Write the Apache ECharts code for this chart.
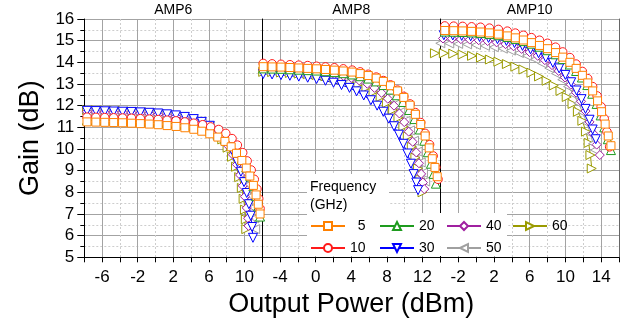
<!DOCTYPE html>
<html>
<head>
<meta charset="utf-8">
<script src="https://cdn.jsdelivr.net/npm/echarts@6/dist/echarts.min.js"></script>
<style>
  html, body { margin: 0; padding: 0; background: #fff; }
  #chart { width: 631px; height: 324px; }
</style>
</head>
<body>
<div id="chart"></div>
<script>
// Gain vs output power, three amplifiers, 7 frequencies each.
// Each series is a list of [Pout (dBm), Gain (dB)].

const panelNames = ["AMP6", "AMP8", "AMP10"];
const panelXMin = [-8, -6, -4];
const panelXMax = [12, 14, 16];
const freqNames = ["5", "10", "20", "30", "40", "50", "60"];
const gainMin = 5;
const gainMax = 16;

// AMP6
const amp6_5 = [[-7.7,11.25],[-6.7,11.24],[-5.7,11.23],[-4.7,11.22],[-3.7,11.21],[-2.7,11.19],[-1.7,11.17],[-0.7,11.15],[0.3,11.12],[1.3,11.08],[2.3,11.04],[3.3,10.98],[4.3,10.91],[5.2,10.82],[6.1,10.7],[7.0,10.55],[7.8,10.35],[8.5,10.1],[9.1,9.8],[9.7,9.47],[10.2,9.12],[10.6,8.75],[11.0,8.32],[11.3,7.88],[11.55,7.45],[11.75,7.0]];
const amp6_10 = [[-7.7,11.47],[-6.7,11.46],[-5.7,11.45],[-4.7,11.44],[-3.7,11.43],[-2.7,11.42],[-1.7,11.4],[-0.7,11.38],[0.3,11.36],[1.3,11.33],[2.3,11.3],[3.3,11.25],[4.3,11.19],[5.3,11.12],[6.2,11.02],[7.1,10.9],[7.9,10.72],[8.6,10.48],[9.2,10.18],[9.8,9.83],[10.3,9.45],[10.75,9.03],[11.1,8.6],[11.4,8.15],[11.6,7.7],[11.75,7.25]];
const amp6_20 = [[-7.7,11.33],[-6.7,11.32],[-5.7,11.32],[-4.7,11.31],[-3.7,11.3],[-2.7,11.29],[-1.7,11.27],[-0.7,11.25],[0.3,11.22],[1.3,11.19],[2.3,11.15],[3.3,11.1],[4.3,11.03],[5.2,10.94],[6.1,10.82],[7.0,10.65],[7.8,10.44],[8.5,10.18],[9.1,9.88],[9.7,9.53],[10.2,9.15],[10.65,8.73],[11.0,8.28],[11.3,7.82],[11.55,7.35],[11.75,6.88]];
const amp6_30 = [[-7.7,11.76],[-6.7,11.75],[-5.7,11.74],[-4.7,11.73],[-3.7,11.72],[-2.7,11.71],[-1.7,11.69],[-0.7,11.67],[0.3,11.64],[1.3,11.6],[2.3,11.55],[3.3,11.48],[4.3,11.38],[5.2,11.25],[6.1,11.07],[6.9,10.83],[7.6,10.55],[8.2,10.22],[8.75,9.83],[9.2,9.4],[9.6,8.95],[9.95,8.47],[10.25,7.97],[10.5,7.45],[10.7,6.92],[10.85,6.4],[10.95,5.9]];
const amp6_40 = [[-7.7,11.72],[-6.7,11.71],[-5.7,11.7],[-4.7,11.69],[-3.7,11.68],[-2.7,11.67],[-1.7,11.65],[-0.7,11.63],[0.3,11.6],[1.3,11.56],[2.3,11.5],[3.3,11.43],[4.3,11.33],[5.2,11.2],[6.1,11.02],[6.9,10.78],[7.6,10.48],[8.2,10.13],[8.7,9.73],[9.15,9.28],[9.5,8.8],[9.8,8.3],[10.05,7.8],[10.25,7.28],[10.4,6.8],[10.45,6.45]];
const amp6_50 = [[-7.7,11.68],[-6.7,11.67],[-5.7,11.66],[-4.7,11.65],[-3.7,11.64],[-2.7,11.63],[-1.7,11.61],[-0.7,11.59],[0.3,11.56],[1.3,11.52],[2.3,11.47],[3.3,11.4],[4.3,11.31],[5.2,11.19],[6.1,11.03],[7.0,10.82],[7.8,10.55],[8.5,10.22],[9.1,9.83],[9.65,9.38],[10.1,8.88],[10.45,8.35],[10.75,7.82],[10.95,7.3],[11.1,6.8],[11.2,6.3]];
const amp6_60 = [[-7.7,11.8],[-6.7,11.79],[-5.7,11.78],[-4.7,11.77],[-3.7,11.76],[-2.7,11.74],[-1.7,11.72],[-0.7,11.7],[0.3,11.66],[1.3,11.62],[2.3,11.56],[3.3,11.48],[4.3,11.37],[5.2,11.22],[6.0,11.02],[6.8,10.76],[7.5,10.44],[8.1,10.06],[8.6,9.64],[9.05,9.18],[9.4,8.7],[9.7,8.2],[9.9,7.7],[10.05,7.2],[10.15,6.75],[10.2,6.3]];

// AMP8
const amp8_5 = [[-5.9,13.8],[-4.9,13.79],[-3.9,13.78],[-2.9,13.76],[-1.9,13.74],[-0.9,13.72],[0.1,13.7],[1.1,13.67],[2.1,13.64],[3.1,13.6],[4.1,13.55],[5.0,13.48],[5.9,13.39],[6.8,13.27],[7.6,13.12],[8.4,12.92],[9.2,12.68],[9.9,12.38],[10.6,12.02],[11.2,11.6],[11.8,11.13],[12.3,10.6],[12.75,10.05],[13.1,9.55],[13.4,9.15],[13.65,8.72]];
const amp8_10 = [[-5.9,13.95],[-4.9,13.93],[-3.9,13.91],[-2.9,13.89],[-1.9,13.87],[-0.9,13.85],[0.1,13.82],[1.1,13.79],[2.1,13.75],[3.1,13.7],[4.1,13.64],[5.0,13.56],[5.9,13.45],[6.8,13.32],[7.6,13.16],[8.4,12.96],[9.2,12.72],[9.9,12.43],[10.6,12.08],[11.2,11.68],[11.8,11.22],[12.3,10.72],[12.8,10.2],[13.2,9.68],[13.5,9.15],[13.75,8.6]];
const amp8_20 = [[-5.9,13.72],[-4.9,13.71],[-3.9,13.7],[-2.9,13.68],[-1.9,13.66],[-0.9,13.64],[0.1,13.62],[1.1,13.59],[2.1,13.55],[3.1,13.5],[4.1,13.44],[5.0,13.36],[5.9,13.25],[6.8,13.12],[7.6,12.95],[8.4,12.74],[9.1,12.48],[9.8,12.17],[10.5,11.8],[11.1,11.38],[11.7,10.9],[12.2,10.38],[12.6,9.85],[12.95,9.32],[13.25,8.85],[13.5,8.4]];
const amp8_30 = [[-5.9,13.46],[-4.9,13.44],[-3.9,13.41],[-2.9,13.38],[-1.9,13.34],[-0.9,13.29],[0.1,13.23],[1.1,13.15],[2.0,13.06],[2.9,12.95],[3.8,12.82],[4.6,12.66],[5.4,12.47],[6.2,12.25],[6.9,12.0],[7.6,11.72],[8.2,11.4],[8.8,11.05],[9.35,10.66],[9.85,10.24],[10.3,9.79],[10.7,9.32],[11.0,8.84],[11.3,8.45],[11.5,8.1]];
const amp8_40 = [[-5.9,13.66],[-4.9,13.65],[-3.9,13.63],[-2.9,13.61],[-1.9,13.59],[-0.9,13.56],[0.1,13.53],[1.1,13.49],[2.1,13.44],[3.1,13.37],[4.0,13.28],[4.9,13.16],[5.8,13.01],[6.6,12.82],[7.4,12.59],[8.1,12.32],[8.8,12.0],[9.4,11.64],[9.95,11.24],[10.45,10.8],[10.9,10.33],[11.3,9.84],[11.6,9.34],[11.85,8.85],[12.05,8.45],[12.2,8.15]];
const amp8_50 = [[-5.9,13.63],[-4.9,13.62],[-3.9,13.6],[-2.9,13.58],[-1.9,13.56],[-0.9,13.53],[0.1,13.5],[1.1,13.46],[2.1,13.41],[3.1,13.35],[4.0,13.27],[4.9,13.16],[5.8,13.02],[6.7,12.84],[7.5,12.62],[8.2,12.36],[8.9,12.05],[9.5,11.7],[10.1,11.3],[10.6,10.86],[11.05,10.38],[11.45,9.88],[11.8,9.38],[12.05,8.9],[12.3,8.5]];
const amp8_60 = [[-5.9,13.56],[-4.9,13.55],[-3.9,13.53],[-2.9,13.51],[-1.9,13.48],[-0.9,13.45],[0.1,13.41],[1.1,13.36],[2.1,13.3],[3.0,13.22],[3.9,13.12],[4.8,12.99],[5.7,12.83],[6.5,12.63],[7.3,12.4],[8.0,12.12],[8.7,11.8],[9.3,11.44],[9.85,11.03],[10.35,10.58],[10.8,10.1],[11.2,9.6],[11.5,9.1],[11.75,8.6],[12.0,8.0]];

// AMP10
const amp10_5 = [[-3.5,15.47],[-2.5,15.46],[-1.5,15.45],[-0.5,15.43],[0.5,15.4],[1.5,15.36],[2.5,15.3],[3.5,15.22],[4.4,15.13],[5.3,15.03],[6.2,14.91],[7.1,14.78],[8.0,14.63],[8.9,14.45],[9.7,14.24],[10.5,14.0],[11.2,13.72],[11.9,13.4],[12.5,13.05],[13.05,12.68],[13.6,12.22],[14.05,11.72],[14.45,11.15],[14.8,10.6],[15.1,10.15]];
const amp10_10 = [[-3.5,15.68],[-2.5,15.67],[-1.5,15.66],[-0.5,15.64],[0.5,15.62],[1.5,15.58],[2.5,15.52],[3.5,15.44],[4.4,15.35],[5.3,15.25],[6.2,15.14],[7.1,15.02],[8.0,14.88],[8.9,14.7],[9.7,14.48],[10.5,14.22],[11.2,13.92],[11.9,13.58],[12.5,13.25],[13.05,12.88],[13.55,12.45],[14.0,11.95],[14.35,11.4],[14.65,10.8],[14.95,10.1]];
const amp10_20 = [[-3.5,15.42],[-2.5,15.41],[-1.5,15.4],[-0.5,15.38],[0.5,15.35],[1.5,15.31],[2.5,15.25],[3.5,15.17],[4.4,15.08],[5.3,14.98],[6.2,14.86],[7.1,14.72],[8.0,14.56],[8.9,14.37],[9.7,14.15],[10.5,13.9],[11.2,13.6],[11.85,13.3],[12.45,12.95],[13.0,12.55],[13.5,12.08],[13.95,11.55],[14.35,11.0],[14.75,10.45],[15.1,9.95]];
const amp10_30 = [[-3.6,15.25],[-2.6,15.24],[-1.6,15.22],[-0.6,15.2],[0.4,15.17],[1.4,15.13],[2.4,15.07],[3.4,14.99],[4.3,14.89],[5.2,14.76],[6.1,14.6],[7.0,14.42],[7.8,14.22],[8.6,13.98],[9.3,13.72],[10.0,13.42],[10.65,13.08],[11.25,12.7],[11.8,12.3],[12.25,11.85],[12.7,11.35],[13.05,10.9],[13.4,10.45]];
const amp10_40 = [[-3.7,15.1],[-2.7,15.09],[-1.7,15.07],[-0.7,15.05],[0.3,15.02],[1.3,14.98],[2.3,14.92],[3.3,14.84],[4.2,14.74],[5.1,14.62],[6.0,14.47],[6.9,14.3],[7.7,14.1],[8.5,13.87],[9.25,13.6],[9.95,13.3],[10.6,12.97],[11.2,12.6],[11.75,12.2],[12.25,11.75],[12.7,11.25],[13.1,10.72],[13.5,10.2],[13.85,9.72]];
const amp10_50 = [[-4.0,14.88],[-3.0,14.87],[-2.0,14.85],[-1.0,14.83],[0.0,14.8],[1.0,14.76],[2.0,14.7],[3.0,14.63],[3.9,14.54],[4.8,14.43],[5.7,14.3],[6.6,14.14],[7.4,13.95],[8.2,13.73],[8.95,13.48],[9.65,13.2],[10.3,12.88],[10.9,12.52],[11.45,12.12],[11.95,11.68],[12.4,11.2],[12.8,10.7],[13.1,10.25],[13.3,9.95]];
const amp10_60 = [[-4.6,14.42],[-3.6,14.42],[-2.55,14.4],[-1.5,14.36],[-0.45,14.3],[0.55,14.22],[1.55,14.13],[2.5,14.03],[3.45,13.92],[4.4,13.8],[5.3,13.67],[6.2,13.52],[7.05,13.35],[7.9,13.15],[8.7,12.93],[9.45,12.68],[10.15,12.4],[10.8,12.08],[11.4,11.72],[11.9,11.3],[12.3,10.8],[12.6,10.28],[12.8,9.72],[12.95,9.1]];

const panelData = [
  [amp6_5, amp6_10, amp6_20, amp6_30, amp6_40, amp6_50, amp6_60],
  [amp8_5, amp8_10, amp8_20, amp8_30, amp8_40, amp8_50, amp8_60],
  [amp10_5, amp10_10, amp10_20, amp10_30, amp10_40, amp10_50, amp10_60],
];

const freqColors = ["#ff8000", "#ff1a1a", "#1e9b1e", "#0000ff", "#a020a0", "#a0a0a0", "#9a9a00"];
const freqSymbols = ["rect", "circle", "triangle", "triangle", "diamond", "triangle", "triangle"];
const freqSymbolSize = [8, 8.5, 9, 9, 9, 9, 9];
const freqRotate = [0, 0, 0, 180, 0, 90, -90];

const FONT = '"Liberation Sans", Arial, Helvetica, sans-serif';
const gridLeft = [84.3, 262.3, 440.3];
const gridWidth = [178, 178, 178.7];
const labelEvery4 = (min) => (v) => ((v - min - 2) % 4 === 0 ? String(v) : "");

const chart = echarts.init(document.getElementById("chart"), null, { renderer: "canvas" });

const grids = gridLeft.map((left, i) => ({
  left: left, top: 19, width: gridWidth[i], height: 238.3,
  containLabel: false, outerBoundsMode: "none",
}));

const xAxes = [];
// labelled axis with dotted minor lines
panelNames.forEach((_, i) => {
  xAxes.push({
    type: "value", gridIndex: i, min: panelXMin[i], max: panelXMax[i], interval: 2,
    position: "bottom",
    name: i === 1 ? "Output Power (dBm)" : "",
    nameLocation: "middle", nameGap: 27,
    nameTextStyle: { fontSize: 27, color: "#000", fontFamily: FONT },
    axisLine: { show: true, onZero: false, lineStyle: { color: "#000", width: 1 } },
    axisTick: { show: true, length: 5, lineStyle: { color: "#000" } },
    axisLabel: { formatter: labelEvery4(panelXMin[i]), fontSize: 17, color: "#000", fontFamily: FONT, margin: 12 },
    splitLine: { show: true, lineStyle: { color: ["#cdcdcd", "rgba(0,0,0,0)"], type: [2, 2], width: 1 } },
  });
});
// hidden axis only for the solid major lines
panelNames.forEach((_, i) => {
  xAxes.push({
    type: "value", gridIndex: i, min: panelXMin[i], max: panelXMax[i], interval: 2,
    position: "top",
    axisLine: { show: false, onZero: false }, axisTick: { show: false }, axisLabel: { show: false },
    splitLine: { show: true, lineStyle: { color: ["rgba(0,0,0,0)", "#a3a3a3"], width: 1 } },
  });
});

const yAxes = panelNames.map((_, i) => ({
  type: "value", gridIndex: i, min: gainMin, max: gainMax, interval: 1,
  position: "left",
  name: i === 0 ? "Gain (dB)" : "",
  nameLocation: "middle", nameGap: 40,
  nameTextStyle: { fontSize: 27, color: "#000", fontFamily: FONT },
  axisLine: { show: true, onZero: false, lineStyle: { color: "#000", width: 1 } },
  axisTick: { show: i === 0, length: 7, lineStyle: { color: "#000" } },
  minorTick: { show: i === 0, splitNumber: 2, length: 4, lineStyle: { color: "#000" } },
  axisLabel: { show: i === 0, fontSize: 17, color: "#000", fontFamily: FONT, margin: 10 },
  splitLine: { show: true, lineStyle: { color: "#a3a3a3", width: 1 } },
  minorSplitLine: { show: true, lineStyle: { color: "#cdcdcd", type: [2, 2], width: 1 } },
}));
// right border of the last panel
yAxes.push({
  type: "value", gridIndex: 2, min: gainMin, max: gainMax, position: "right",
  axisLine: { show: true, onZero: false, lineStyle: { color: "#666" } },
  axisTick: { show: false }, axisLabel: { show: false }, splitLine: { show: false },
});

const series = [];
panelData.forEach((sets, p) => {
  // draw 60 GHz first so 5 GHz ends on top
  for (let k = freqNames.length - 1; k >= 0; k--) {
    series.push({
      name: freqNames[k], type: "line",
      xAxisIndex: p, yAxisIndex: p,
      data: sets[k],
      symbol: freqSymbols[k], symbolRotate: freqRotate[k], symbolSize: freqSymbolSize[k],
      showAllSymbol: true, clip: false,
      lineStyle: { color: freqColors[k], width: 1 },
      itemStyle: { color: "#fff", borderColor: freqColors[k], borderWidth: 1 },
      emphasis: { disabled: true },
    });
  }
});

const legendCols = [["5", "10"], ["20", "30"], ["40", "50"], ["60"]];
const legendLeft = [310, 379, 446, 512];

const option = {
  animation: false,
  backgroundColor: "#fff",
  grid: grids,
  xAxis: xAxes,
  yAxis: yAxes,
  series: series,
  legend: legendCols.map((cols, i) => ({
    data: cols, orient: "vertical", left: legendLeft[i], top: 219,
    itemWidth: 34, itemHeight: 10, itemGap: 8, padding: 0,
    selectedMode: false,
    formatter: (n) => (n.length < 2 ? "\u2007" + n : n),
    textStyle: { fontSize: 14, color: "#000", fontFamily: FONT },
  })),
  graphic: [
    { type: "rect", z: 1, shape: { x: 307, y: 174, width: 82, height: 40 }, style: { fill: "#fff" } },
    { type: "rect", z: 1, shape: { x: 307, y: 213, width: 200, height: 43 }, style: { fill: "#fff" } },
    { type: "text", z: 5, x: 310, y: 180, style: { text: "Frequency", fontSize: 14, fontFamily: FONT, fill: "#000" } },
    { type: "text", z: 5, x: 310, y: 198, style: { text: "(GHz)", fontSize: 14, fontFamily: FONT, fill: "#000" } },
  ].concat(panelNames.map((t, i) => ({
    type: "text", z: 5, x: gridLeft[i] + gridWidth[i] / 2, y: 10,
    style: { text: t, fontSize: 14, fontFamily: FONT, fill: "#000", align: "center", verticalAlign: "middle" },
  }))),
};

chart.setOption(option);
</script>
</body>
</html>
